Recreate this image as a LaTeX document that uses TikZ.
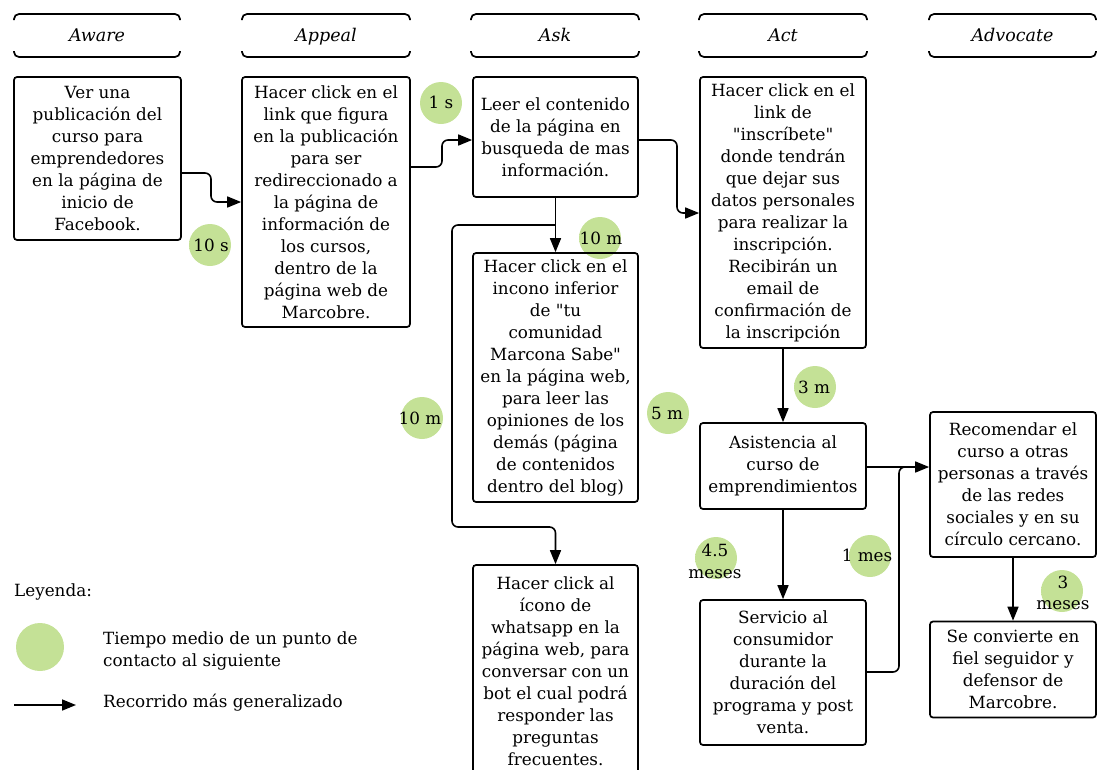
\documentclass[tikz,border=0pt]{standalone}
\usepackage{fontspec}
\setmainfont{DejaVu Serif}
\newfontfamily\quotefont{DejaVu Serif}
\usetikzlibrary{arrows.meta}

% straight double quote, set without the TeX ligature mapping
\newcommand\dq{{\quotefont"}}

\definecolor{blobin}{RGB}{196,225,150}
\definecolor{blobout}{RGB}{152,198,100}
\pgfdeclareradialshading{blobshade}{\pgfpoint{0bp}{0bp}}{color(0bp)=(blobin); color(28bp)=(blobin); color(44bp)=(blobout); color(50bp)=(blobout!70!white)}

\tikzset{
  box/.style={draw, line width=1.7pt, rounded corners=3pt, align=center, inner sep=0pt,
              font=\fontsize{16.8}{22}\selectfont},
  arr/.style={line width=1.6pt, rounded corners=6pt, -{Triangle[length=14pt,width=11pt]}},
  link/.style={line width=1.6pt, rounded corners=6pt},
  hdr/.style={line width=1.7pt, rounded corners=5pt},
  hdrtext/.style={font=\fontsize{17.5}{20}\selectfont\itshape, inner sep=0pt, anchor=base},
  tlabel/.style={align=center, font=\fontsize{16.8}{21}\selectfont, inner sep=0pt},
  legtext/.style={align=left, anchor=west, font=\fontsize{16.8}{22}\selectfont, inner sep=0pt},
  blob/.style={circle, inner sep=0pt, minimum size=#1, shading=blobshade},
  blob/.default=42pt,
}

\begin{document}
\begin{tikzpicture}[x=1pt, y=-1pt]
\useasboundingbox (0,0) rectangle (1099,769);
\clip (0,0) rectangle (1099,769);

% stage headers
\foreach \a/\b/\t [count=\i] in {14/180/Aware, 242/410/Appeal, 471/639/Ask, 699/867/Act, 929/1096/Advocate}{
  \draw[hdr] (\a,20) -- (\a,14) -- (\b,14) -- (\b,20);
  \draw[hdr] (\a,51) -- (\a,57) -- (\b,57) -- (\b,51);
  \node[hdrtext] (h\i) at ({(\a+\b)/2},41) {\t};
}

% time bubbles (drawn first so that lines sit on top)
\foreach \x/\y/\n in {441/103/c1, 210/245/c2, 600/238/c3, 422/418/c4, 668/413/c5,
                      815/387/c6, 716/558/c7, 870/556/c8, 1062/591/c9}{
  \node[blob] (\n) at (\x,\y) {};
}
\node[blob=48pt] (cleg) at (40,647) {};

% touch points
\node[box, minimum width=167pt, minimum height=163pt] (b1) at (97.5,158.5)
  {Ver una\\publicación del\\curso para\\emprendedores\\en la página de\\inicio de\\Facebook.};
\node[box, minimum width=168pt, minimum height=250pt] (b2) at (326,202)
  {Hacer click en el\\link que figura\\en la publicación\\para ser\\redireccionado a\\la página de\\información de\\los cursos,\\dentro de la\\página web de\\Marcobre.};
\node[box, minimum width=165pt, minimum height=120pt] (b3) at (555.5,137)
  {Leer el contenido\\de la página en\\busqueda de mas\\información.};
\node[box, minimum width=165pt, minimum height=249pt] (b4) at (555.5,377.5)
  {Hacer click en el\\incono inferior\\de \dq tu\\comunidad\\Marcona Sabe\dq\\en la página web,\\para leer las\\opiniones de los\\demás (página\\de contenidos\\dentro del blog)};
\node[box, minimum width=165pt, minimum height=212pt] (b5) at (555.5,671)
  {Hacer click al\\ícono de\\whatsapp en la\\página web, para\\conversar con un\\bot el cual podrá\\responder las\\preguntas\\frecuentes.};
\node[box, minimum width=166pt, minimum height=271pt] (b6) at (783,212.5)
  {Hacer click en el\\link de\\\dq inscríbete\dq\\donde tendrán\\que dejar sus\\datos personales\\para realizar la\\inscripción.\\Recibirán un\\email de\\confirmación de\\la inscripción};
\node[box, minimum width=166pt, minimum height=86pt] (b7) at (783,466)
  {Asistencia al\\curso de\\emprendimientos};
\node[box, minimum width=166pt, minimum height=145pt] (b8) at (783,672.5)
  {Servicio al\\consumidor\\durante la\\duración del\\programa y post\\venta.};
\node[box, minimum width=166pt, minimum height=145pt] (b9) at (1013,484.5)
  {Recomendar el\\curso a otras\\personas a través\\de las redes\\sociales y en su\\círculo cercano.};
\node[box, minimum width=166pt, minimum height=96pt] (b10) at (1013,669.5)
  {Se convierte en\\fiel seguidor y\\defensor de\\Marcobre.};

% connectors
\draw[arr] (b1.east |- 0,173) -- (211,173) -- (211,202) -- (b2.west |- 0,202);
\draw[arr] (b2.east |- 0,167) -- (442,167) -- (442,140) -- (b3.west |- 0,140);
\draw[arr] (b3.east |- 0,140) -- (677,140) -- (677,213) -- (b6.west |- 0,213);
\draw[arr] (b3.south) -- (b4.north);
\draw[arr] (b3.south |- 0,225) -- (452,225) -- (452,527) -- (b5.north |- 0,527) -- (b5.north);
\draw[arr] (b6.south) -- (b7.north);
\draw[arr] (b7.south) -- (b8.north);
\draw[arr] (b7.east |- 0,467) -- (b9.west |- 0,467);
\draw[link] (b8.east |- 0,672) -- (899,672) -- (899,467) -- (915,467);
\draw[arr] (b9.south) -- (b10.north);

% bubble labels
\node[tlabel] (t1) at (441,102) {1 s};
\node[tlabel] (t2) at (211,245) {10 s};
\node[tlabel] (t3) at (601,238) {10 m};
\node[tlabel] (t4) at (420,418) {10 m};
\node[tlabel] (t5) at (667,413) {5 m};
\node[tlabel] (t6) at (814,387) {3 m};
\node[tlabel, font=\fontsize{16.8}{22}\selectfont] (t7) at (715,561) {4.5\\meses};
\node[tlabel] (t8) at (867,555) {1 mes};
\node[tlabel, font=\fontsize{16.8}{21}\selectfont] (t9) at (1063,593) {3\\meses};

% legend
\node[legtext] (leg) at (14,592) {Leyenda:};
\node[legtext] (legc) at (103,651) {Tiempo medio de un punto de\\contacto al siguiente};
\node[legtext] (lega) at (103,703) {Recorrido más generalizado};
\coordinate (la) at (14,705);
\coordinate (lb) at (76,705);
\draw[arr] (la) -- (lb);
\end{tikzpicture}
\end{document}
